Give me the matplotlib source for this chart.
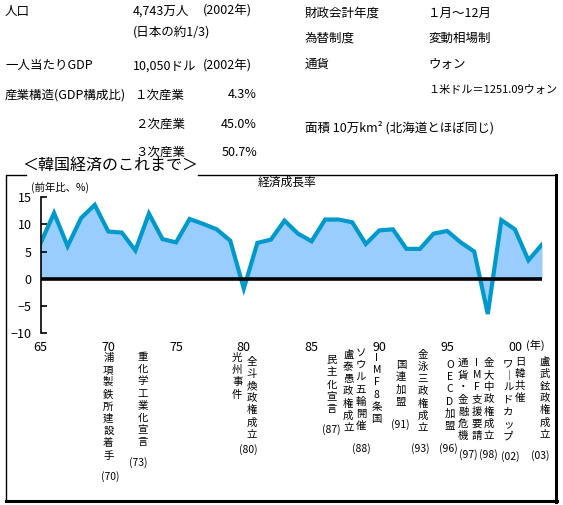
import matplotlib
matplotlib.use("Agg")
import matplotlib.pyplot as plt
from matplotlib.lines import Line2D

plt.rcParams['font.family'] = ['Noto Sans CJK JP', 'DejaVu Sans']

# data: Korean real GDP growth, % y/y
years = list(range(1965, 2003))
growth = [6.5, 12.1, 6.0, 11.2, 13.6, 8.7, 8.5, 5.2, 12.0, 7.3,
          6.7, 11.0, 10.1, 9.1, 7.0, -1.8, 6.6, 7.2, 10.7, 8.3,
          6.9, 10.9, 10.9, 10.4, 6.4, 8.9, 9.1, 5.5, 5.5, 8.3,
          8.8, 6.7, 5.0, -6.5, 10.8, 9.1, 3.4, 6.3]
tick_years = [1965, 1970, 1975, 1980, 1985, 1990, 1995, 2000]
tick_labels = ['65', '70', '75', '80', '85', '90', '95', '00']
y_ticks = [-10, -5, 0, 5, 10, 15]

events = ['浦項製鉄所建設着手', '重化学工業化宣言', '光州事件', '全斗煥政権成立',
          '民主化宣言', '盧泰愚政権成立', 'ソウル五輪開催', 'IMF8条国', '国連加盟',
          '金泳三政権成立', 'OECD加盟', '通貨・金融危機', 'IMF支援要請',
          '金大中政権成立', 'ワ｜ルドカップ', '日韓共催', '盧武鉉政権成立']
event_years = ['(70)', '(73)', '(80)', '(87)', '(88)', '(91)', '(93)',
               '(96)', '(97)', '(98)', '(02)', '(03)']

W, H = 563, 505
fig = plt.figure(figsize=(W / 100, H / 100), dpi=100)


def px(x, y):
    return x / W, 1 - y / H


def ftext(x, y, s, size=9, ha='left', va='center', **kw):
    fig.text(*px(x, y), s, fontsize=size, ha=ha, va=va, **kw)


def vtext(x, y0, s, step=12.2, size=7.5):
    # vertical writing, one char per line
    for i, ch in enumerate(s):
        ftext(x, y0 + i * step, ch, size=size, ha='center')


def fline(xs, ys, lw=1.0):
    fx = [x / W for x in xs]
    fy = [1 - y / H for y in ys]
    fig.add_artist(Line2D(fx, fy, color='black', lw=lw, transform=fig.transFigure))


# info block on top
ftext(5, 11, '人口')
ftext(133, 11, '4,743万人')
ftext(203, 11, '(2002年)')
ftext(133, 32, '(日本の約1/3)')
ftext(5, 66, '一人当たりGDP')
ftext(133, 66, '10,050ドル')
ftext(203, 66, '(2002年)')
ftext(5, 95, '産業構造(GDP構成比)')
ftext(135, 95, '１次産業')
ftext(257, 95, '4.3%', ha='right')
ftext(135, 124, '２次産業')
ftext(257, 124, '45.0%', ha='right')
ftext(135, 152, '３次産業')
ftext(257, 152, '50.7%', ha='right')

ftext(305, 13, '財政会計年度')
ftext(428, 13, '１月～12月')
ftext(305, 38, '為替制度')
ftext(428, 38, '変動相場制')
ftext(305, 64, '通貨')
ftext(428, 64, 'ウォン')
ftext(428, 90, '１米ドル＝1251.09ウォン', size=8)
ftext(305, 128, '面積 10万km² (北海道とほぼ同じ)')

# frame with shadow
fline([26, 5.7, 5.7], [174.7, 174.7, 500])
fline([198, 555], [174.7, 174.7])
fline([555.5, 555.5], [174.7, 501.5], lw=2.2)
fline([6, 556.5], [501, 501], lw=2.2)
ftext(110, 166, '＜韓国経済のこれまで＞', size=11.5, ha='center')

# chart
ax = fig.add_axes([40.5 / W, 1 - 333 / H, (542 - 40.5) / W, (333 - 197.3) / H])
ax.fill_between(years, growth, 0, color='#99CCFF', lw=0)
ax.plot(years, growth, color='#0099CC', lw=3, solid_joinstyle='miter')
ax.axhline(0, color='black', lw=2.6)
ax.set_xlim(1965, 2002)
ax.set_ylim(-10, 15)
ax.set_yticks(y_ticks)
ax.set_xticks(tick_years)
ax.set_xticklabels(tick_labels)
for s in ['top', 'right', 'bottom']:
    ax.spines[s].set_visible(False)
ax.spines['left'].set_linewidth(1.2)
ax.tick_params(axis='y', direction='in', length=4, width=1.2, pad=6.5, labelsize=9)
ax.tick_params(axis='x', length=0, pad=6, labelsize=9)
ax.patch.set_alpha(0)

ftext(287, 182, '経済成長率', size=8.5, ha='center')
ftext(31, 187, '(前年比、%)', size=7.5)
ftext(535, 345, '(年)', size=8, ha='center')

# event annotations
ev_x = [108.3, 142.7, 237.3, 251.7, 331.7, 348.3, 361, 376.7, 401,
        422.7, 450, 463.3, 476.7, 489, 508.3, 520, 545]
ev_y = [358, 357, 358, 361.5, 360, 355, 353, 358, 365,
        355, 365, 363, 363, 363, 363, 361.5, 361.5]
for x, y, s in zip(ev_x, ev_y, events):
    vtext(x, y, s)

yr_x = [110, 138, 248, 331.7, 361.7, 400, 420, 448.3, 468, 488.3, 510, 540]
yr_y = [476.7, 462.7, 450, 430, 448.3, 425, 449, 448.3, 455, 455, 456.7, 456]
for x, y, s in zip(yr_x, yr_y, event_years):
    ftext(x, y, s, size=7.5, ha='center')

fig.savefig('out.png', dpi=100)
